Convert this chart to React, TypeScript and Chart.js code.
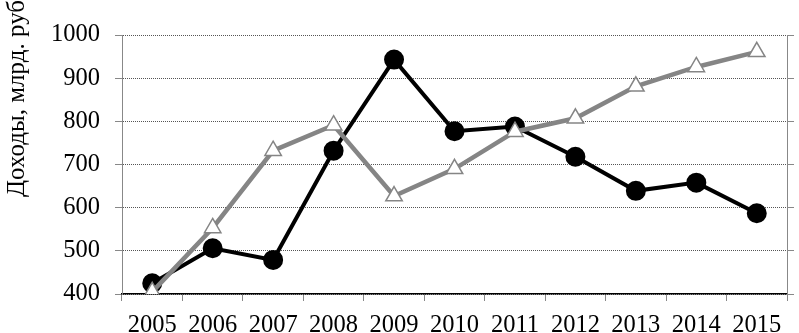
import React, { useEffect, useRef } from "react";
import { Chart, registerables } from "chart.js";

Chart.register(...registerables);

const years = ["2005", "2006", "2007", "2008", "2009", "2010", "2011", "2012", "2013", "2014", "2015"];
const blackSeries = [425, 506, 479, 732, 943, 777, 788, 718, 639, 658, 587];
const graySeries = [405, 553, 732, 791, 627, 690, 776, 807, 881, 926, 961];
const yTitle = "Доходы, млрд. руб.";
const yMin = 400;
const yMax = 1000;
const yStep = 100;

const FONT = "'Liberation Serif', 'Times New Roman', serif";

const titlePlugin = {
  id: "yTitlePlugin",
  afterDraw(chart: any) {
    const ctx = chart.ctx;
    ctx.save();
    ctx.translate(24, 197);
    ctx.rotate(-Math.PI / 2);
    ctx.font = `25px ${FONT}`;
    ctx.fillStyle = "#000";
    ctx.textAlign = "left";
    ctx.textBaseline = "alphabetic";
    ctx.fillText(yTitle, 0, 0);
    ctx.restore();
  },
};

export default function App() {
  const ref = useRef<HTMLCanvasElement>(null);
  useEffect(() => {
    document.body.style.margin = "0";
    const chart = new Chart(ref.current!, {
      type: "line",
      data: {
        labels: years,
        datasets: [
          {
            data: graySeries,
            borderColor: "#858585",
            borderWidth: 4.5,
            pointStyle: "triangle",
            pointRadius: 9.5,
            pointBackgroundColor: "#ffffff",
            pointBorderColor: "#858585",
            pointBorderWidth: 1.5,
            tension: 0,
          },
          {
            data: blackSeries,
            borderColor: "#000000",
            borderWidth: 4,
            pointStyle: "circle",
            pointRadius: 8,
            pointBackgroundColor: "#000000",
            pointBorderColor: "#000000",
            tension: 0,
          },
        ],
      },
      options: {
        responsive: false,
        animation: false,
        layout: { padding: { top: 35, left: 0, right: 0, bottom: 0 } },
        plugins: { legend: { display: false }, tooltip: { enabled: false } },
        scales: {
          x: {
            offset: true,
            grid: { offset: true, drawOnChartArea: false, drawTicks: true, tickLength: 7, color: "#888" },
            border: { color: "#000", width: 1.5 },
            ticks: { font: { family: FONT, size: 24.5 }, color: "#000", padding: 10, maxRotation: 0, autoSkip: false },
            afterFit(scale: any) {
              scale.height = 39;
            },
          },
          y: {
            min: yMin,
            max: yMax,
            ticks: {
              stepSize: yStep,
              font: { family: FONT, size: 24.5 },
              color: "#000",
              padding: 15,
              callback: (v: any) => String(v),
            },
            grid: { color: "#555", tickLength: 7, tickColor: "#888", lineWidth: 1 },
            border: { color: "#888", width: 1, dash: [1, 1] },
            afterFit(scale: any) {
              scale.width = 122;
            },
          },
          y2: {
            position: "right",
            min: yMin,
            max: yMax,
            ticks: { display: false, stepSize: yStep },
            grid: { drawOnChartArea: false, tickLength: 7, color: "#888" },
            border: { color: "#888", width: 1 },
            afterFit(scale: any) {
              scale.width = 7.3;
            },
          },
        },
      },
      plugins: [titlePlugin],
    });
    return () => chart.destroy();
  }, []);
  return <canvas ref={ref} width={799} height={333} style={{ display: "block" }} />;
}
